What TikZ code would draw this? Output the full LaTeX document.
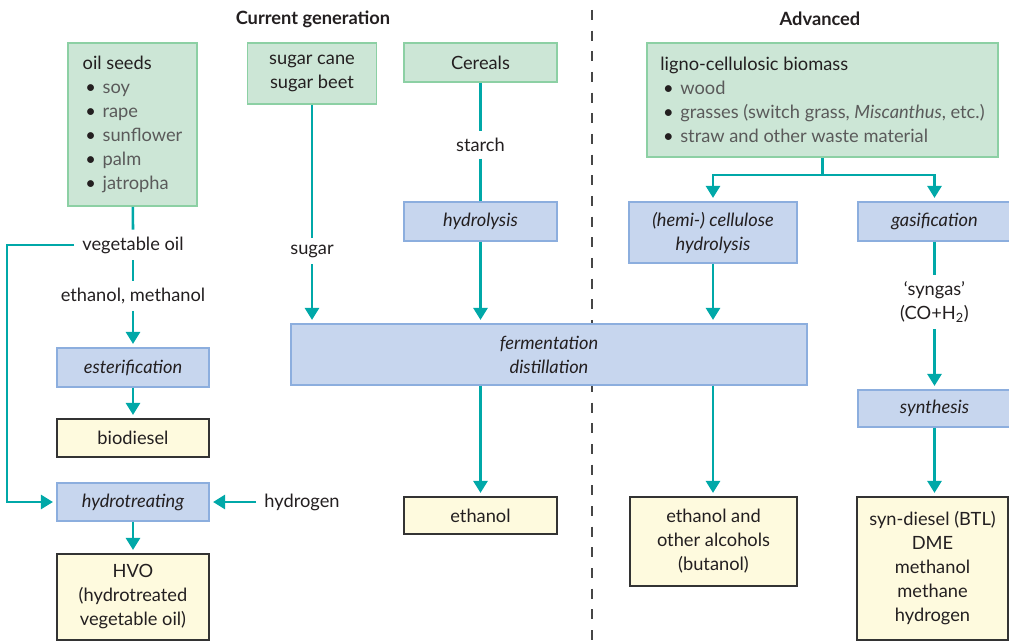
\documentclass[tikz,border=0pt]{standalone}
\usepackage{fontspec}
\setmainfont{Lato}
\usetikzlibrary{arrows.meta}
\definecolor{FlowColor}{RGB}{0,168,168}
\definecolor{SourceColor}{RGB}{204,230,214}
\definecolor{SourceLine}{RGB}{140,208,164}
\definecolor{ProcessColor}{RGB}{199,214,238}
\definecolor{ProcessLine}{RGB}{140,174,222}
\definecolor{ProductColor}{RGB}{254,250,222}
\definecolor{ProductLine}{RGB}{51,51,51}
\definecolor{TextColor}{RGB}{35,31,32}
\definecolor{ItemColor}{RGB}{90,90,90}
\definecolor{DividerColor}{RGB}{70,70,70}
\newcommand{\bitem}[1]{\hspace*{2pt}\textbullet\hspace{5pt}{\color{ItemColor}#1}}
\tikzstyle{source} = [draw=SourceLine, fill=SourceColor, line width=1.2pt, align=left]
\tikzstyle{process} = [draw=ProcessLine, fill=ProcessColor, line width=1.1pt, align=center, font=\fontsize{13.7}{18}\selectfont\itshape]
\tikzstyle{product} = [draw=ProductLine, fill=ProductColor, line width=1.1pt, align=center]
\tikzstyle{flowlabel} = [fill=white, inner xsep=6pt, inner ysep=5pt, align=center]
\tikzstyle{arrow} = [line width=2pt, FlowColor, -{Triangle[length=9pt,width=10.5pt]}, shorten >=2.5pt]
\tikzstyle{flow} = [line width=2pt, FlowColor]
\tikzstyle{divider} = [line width=1.1pt, DividerColor, dash pattern=on 7.5pt off 8pt]
\begin{document}
\begin{tikzpicture}[x=0.75pt, y=-0.75pt, font=\fontsize{13.7}{18}\selectfont, text=TextColor]
            \useasboundingbox (0,0) rectangle (1009,641);
            % Current generation / advanced split
            \draw[divider] (592,10) -- (592,641);
            \node (curgen) at (313,19) {\bfseries Current generation};
            \node (adv) at (820,19) {\bfseries Advanced};
            % feedstocks
            \node[source, minimum width=96.75pt, minimum height=122.25pt] (oilseeds) at (132.5,124.5) {oil seeds\\ \bitem{soy}\\ \bitem{rape}\\ \bitem{sunflower}\\ \bitem{palm}\\ \bitem{jatropha}};
            \node[source, align=center, minimum width=96.75pt, minimum height=45.75pt] (sugarcane) at (312,73.5) {sugar cane\\ sugar beet};
            \node[source, align=center, minimum width=114.75pt, minimum height=29.25pt] (cereals) at (480.5,62.5) {Cereals};
            \node[source, minimum width=263.25pt, minimum height=85.5pt] (ligno) at (822.5,100) {ligno-cellulosic biomass\\ \bitem{wood}\\ \bitem{grasses (switch grass, \textit{Miscanthus}, etc.)}\\ \bitem{straw and other waste material}};
            % processes
            \node[process, minimum width=114.75pt, minimum height=29.25pt] (hydrolysis) at (480.5,221.5) {hydrolysis};
            \node[process, minimum width=126pt, minimum height=45.75pt] (hemi) at (713,232.5) {(hemi-) cellulose\\ hydrolysis};
            \node[process, minimum width=114.75pt, minimum height=29.25pt] (gasif) at (934.5,221.5) {gasification};
            \node[process, minimum width=387pt, minimum height=45.75pt] (ferm) at (549,354.5) {fermentation\\ distillation};
            \node[process, minimum width=114pt, minimum height=29.25pt] (esterif) at (133,367.5) {esterification};
            \node[process, minimum width=114pt, minimum height=28.5pt] (hydrotreat) at (133,502) {hydrotreating};
            \node[process, minimum width=114.75pt, minimum height=27.75pt] (synthesis) at (934.5,408.5) {synthesis};
            % products
            \node[product, minimum width=114pt, minimum height=28.5pt] (biodiesel) at (133,438) {biodiesel};
            \node[product, minimum width=114pt, minimum height=64.5pt] (hvo) at (133,597) {HVO\\ (hydrotreated\\ vegetable oil)};
            \node[product, minimum width=114.75pt, minimum height=27.75pt] (ethanol) at (480.5,515.5) {ethanol};
            \node[product, minimum width=125.25pt, minimum height=66.75pt] (alcohols) at (713.5,541.5) {ethanol and\\ other alcohols\\ (butanol)};
            \node[product, minimum width=113.25pt, minimum height=107.25pt] (syndiesel) at (932.5,568.5) {syn-diesel (BTL)\\ DME\\ methanol\\ methane\\ hydrogen};
            % labels on the flows
            \node[flowlabel] (vegoil) at (133,245) {vegetable oil};
            \node[flowlabel] (ethmeth) at (133,296) {ethanol, methanol};
            \node[flowlabel] (hydrogen) at (302,502) {hydrogen};
            \node[flowlabel] (sugar) at (312,251) {sugar};
            \node[flowlabel] (starch) at (480.5,145) {starch};
            \node[flowlabel] (syngas) at (934.5,302) {‘syngas’\\ (CO+H\textsubscript{2})};
            \coordinate (bypass) at (7,245);
            \coordinate (split) at (822.5,175);
            % flows
            \draw[flow] (oilseeds) -- (vegoil);
            \draw[flow] (vegoil) -- (ethmeth);
            \draw[arrow] (ethmeth) -- (esterif);
            \draw[arrow] (esterif) -- (biodiesel);
            \draw[arrow] (vegoil.west) -- (bypass) |- (hydrotreat.west);
            \draw[arrow] (hydrogen.west) -- (hydrotreat.east);
            \draw[arrow] (hydrotreat) -- (hvo);
            \draw[flow] (sugarcane) -- (sugar);
            \draw[arrow] (sugar) -- (sugar |- ferm.north);
            \draw[flow] (cereals) -- (starch);
            \draw[flow] (starch) -- (hydrolysis);
            \draw[arrow] (hydrolysis) -- (hydrolysis |- ferm.north);
            \draw[arrow] (ethanol |- ferm.south) -- (ethanol);
            \draw[flow] (ligno) -- (split);
            \draw[arrow] (split) -| (hemi.north);
            \draw[arrow] (split) -| (gasif.north);
            \draw[arrow] (hemi) -- (hemi |- ferm.north);
            \draw[arrow] (hemi |- ferm.south) -- (hemi |- alcohols.north);
            \draw[flow] (gasif) -- (syngas);
            \draw[arrow] (syngas) -- (synthesis);
            \draw[arrow] (synthesis) -- (synthesis |- syndiesel.north);
        \end{tikzpicture}
\end{document}
